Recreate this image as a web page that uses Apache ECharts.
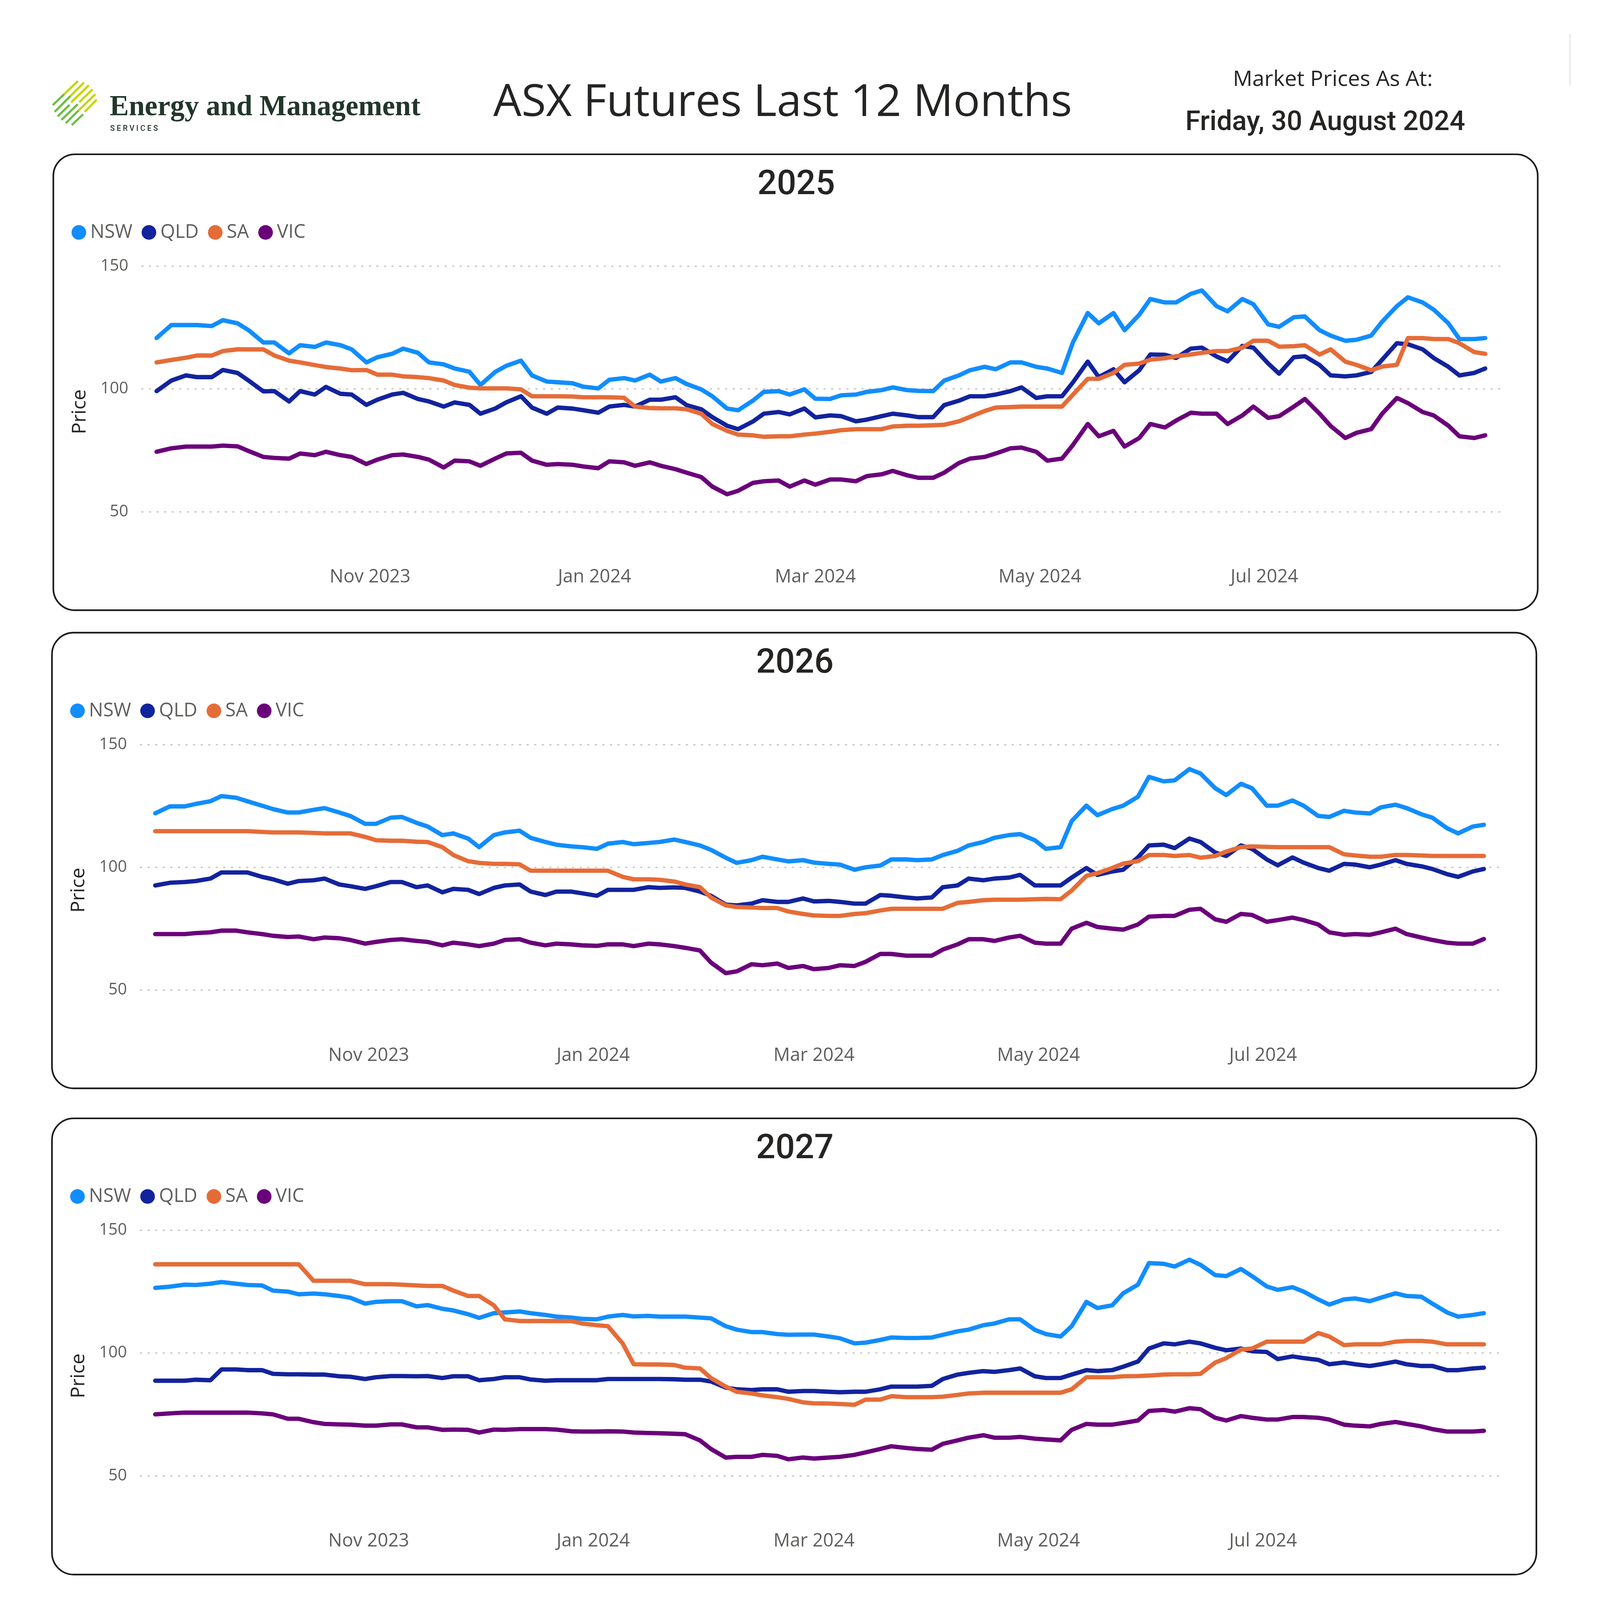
<!DOCTYPE html>
<html>
<head>
<meta charset="utf-8">
<script src="https://cdn.jsdelivr.net/npm/echarts@6/dist/echarts.min.js"></script>
<style>
html,body{margin:0;padding:0;background:#fff;overflow:hidden;}
</style>
</head>
<body>
<div id="chart"></div>
<script>
// ---------- DATA ----------
// Friday (weekly) readings
const dates = ['2023-09-04','2023-09-08','2023-09-15','2023-09-22','2023-09-29','2023-10-06','2023-10-13','2023-10-20','2023-10-27','2023-11-03','2023-11-10','2023-11-17','2023-11-24','2023-12-01','2023-12-08','2023-12-15','2023-12-22','2023-12-29','2024-01-05','2024-01-12','2024-01-19','2024-01-26','2024-02-02','2024-02-09','2024-02-16','2024-02-23','2024-03-01','2024-03-08','2024-03-15','2024-03-22','2024-03-29','2024-04-05','2024-04-12','2024-04-19','2024-04-26','2024-05-03','2024-05-10','2024-05-17','2024-05-24','2024-05-31','2024-06-07','2024-06-14','2024-06-21','2024-06-28','2024-07-05','2024-07-12','2024-07-19','2024-07-26','2024-08-02','2024-08-09','2024-08-16','2024-08-23','2024-08-30'];
// Tuesday (mid-week) readings
const midDates = ['2023-09-12','2023-09-19','2023-09-26','2023-10-03','2023-10-10','2023-10-17','2023-10-24','2023-10-31','2023-11-07','2023-11-14','2023-11-21','2023-11-28','2023-12-05','2023-12-12','2023-12-19','2023-12-26','2024-01-02','2024-01-09','2024-01-16','2024-01-23','2024-01-30','2024-02-06','2024-02-13','2024-02-20','2024-02-27','2024-03-05','2024-03-12','2024-03-19','2024-03-26','2024-04-02','2024-04-09','2024-04-16','2024-04-23','2024-04-30','2024-05-07','2024-05-14','2024-05-21','2024-05-28','2024-06-04','2024-06-11','2024-06-18','2024-06-25','2024-07-02','2024-07-09','2024-07-16','2024-07-23','2024-07-30','2024-08-06','2024-08-13','2024-08-20','2024-08-27'];
const regions = ['NSW','QLD','SA','VIC'];
const panelTitles = ['2025','2026','2027'];
const xTickDates = ['2023-11-01','2024-01-01','2024-03-01','2024-05-01','2024-07-01'];
const monthNames = ['Jan','Feb','Mar','Apr','May','Jun','Jul','Aug','Sep','Oct','Nov','Dec'];
const yTicks = {min:50, max:150, interval:50};

// 2025 calendar-year futures
const nsw2025 = [120.7,126,126.0,128,123.9,118.9,117.8,118.9,116.1,112.9,116.4,110.8,108.3,101.6,109.4,105.5,102.7,100.9,103.7,103.4,103.0,102.0,97.0,91.3,98.8,97.7,96.0,97.4,98.8,100.6,99.2,103.4,107.6,108.0,110.8,108.3,119.0,126.7,123.9,136.6,135.2,140.1,131.6,134.5,125.3,129.5,121.7,120.0,127.4,137.3,132.3,120.3,120.7];
const qld2025 = [99.1,103.4,104.8,107.7,103.4,99.1,99.1,100.8,97.7,95.6,98.4,94.9,94.5,89.9,94.5,92.4,92.4,91.3,92.8,92.8,95.6,93.4,88.5,83.6,89.9,89.6,88.4,88.9,87.5,89.9,88.5,93.4,97.0,97.7,100.6,97.0,102.7,104.8,102.7,114.0,112.6,116.8,111.2,116.8,106.2,113.3,105.5,105.5,111.9,118.2,112.6,105.5,108.3];
const sa2025  = [110.8,111.8,113.6,115.4,116.1,113.6,110.8,108.9,107.6,105.8,105.1,104.4,101.6,100.2,100.2,97.0,97.0,96.6,96.6,92.8,92.1,91.7,85.7,81.4,80.5,80.7,81.8,83.2,83.6,84.7,85.0,85.4,88.6,92.4,92.8,92.8,97.7,104.1,109.8,111.9,113.3,114.7,115.4,119.6,117.2,117.8,116.1,109.8,109.1,120.7,120.3,118.6,114.3];
const vic2025 = [74.4,75.8,76.5,76.9,74.7,71.9,73.7,74.4,72.3,71.2,73.3,71.2,70.8,68.7,73.7,70.8,69.4,68.4,70.5,68.7,68.7,65.9,60.2,58.5,62.4,60.2,61.0,63.1,64.5,66.6,63.8,65.9,71.6,73.7,76.1,70.8,77.2,80.7,76.5,85.7,87.1,89.9,85.7,92.8,88.9,95.9,84.9,82.1,89.9,94.2,89.2,80.7,81.1];
const nsw2025Mid = [126.0,125.6,126.7,118.9,114.5,117.1,117.8,110.8,114.3,114.7,110.0,107.0,106.9,111.5,103.0,102.3,100.2,104.4,105.8,104.4,99.8,92.0,95.2,99.1,99.8,95.9,97.7,99.5,99.5,99.1,105.5,109.0,110.8,109.0,106.5,130.9,130.9,130.2,135.2,138.7,133.7,136.6,126.3,129.2,123.9,119.6,121.7,133.7,135.2,126.7,120.3];
const qld2025Mid = [105.5,104.8,106.5,99.0,94.9,97.7,98.0,93.5,97.7,95.9,92.8,93.5,92.0,97.0,89.9,92.0,90.3,93.5,95.6,96.6,91.7,85.0,86.7,90.6,92.0,89.2,86.8,88.9,89.2,88.5,95.2,97.0,99.1,96.3,97.0,111.1,108.0,107.6,113.9,116.4,113.2,117.5,110.4,112.9,109.7,105.1,106.9,118.6,116.1,109.0,106.5];
const sa2025Mid  = [112.7,113.6,116.1,116.1,111.5,109.7,108.3,107.7,105.8,104.8,103.4,100.5,100.2,99.8,97.0,96.9,96.6,96.4,92.2,92.1,89.9,82.9,81.1,80.7,81.4,82.5,83.6,83.6,85.0,85.2,86.8,91.0,92.6,92.8,92.8,104.1,106.5,110.3,112.5,114.0,115.4,116.8,119.6,117.4,114.0,111.1,107.6,109.8,120.7,120.3,115.0];
const vic2025Mid = [76.5,76.5,76.6,72.3,71.6,73.0,73.0,69.4,73.0,72.3,68.0,70.5,71.6,74.0,69.1,69.1,67.7,70.1,70.1,67.3,64.1,57.1,61.7,62.7,62.7,63.1,62.4,65.2,64.8,63.8,69.8,72.3,75.8,74.4,71.6,85.7,82.9,80.0,84.3,90.3,89.9,89.2,88.2,92.8,89.9,80.0,83.6,96.3,90.6,85.0,80.0];

// 2026 calendar-year futures
const nsw2026 = [122.0,124.8,125.8,129.0,126.9,123.7,122.3,124.1,120.9,117.7,120.5,116.6,113.8,108.2,114.2,112.0,109.2,108.2,109.6,109.4,110.3,110.3,107.1,101.8,104.3,102.4,101.9,101.1,100.0,103.2,102.9,105.0,108.9,112.0,113.5,107.5,118.8,121.2,125.1,136.8,135.4,138.2,129.4,132.2,125.1,125.1,120.5,122.3,124.4,124.1,120.2,113.8,117.3];
const qld2026 = [92.6,93.7,94.4,97.9,97.9,95.1,94.4,95.4,92.3,92.3,94.0,92.6,91.2,89.1,92.6,90.1,90.1,89.4,90.8,90.8,91.6,91.6,88.4,84.5,86.6,85.9,86.1,85.9,85.2,88.4,87.3,91.9,95.4,95.4,96.9,92.6,95.8,96.9,99.0,108.9,107.8,110.3,104.6,107.5,100.8,101.9,98.6,101.1,101.1,101.4,99.3,96.1,99.3];
const sa2026  = [114.7,114.7,114.7,114.7,114.7,114.2,114.2,113.8,113.8,111.0,110.8,110.3,105.0,101.8,101.4,98.6,98.6,98.6,98.6,95.1,94.9,93.0,87.7,83.8,83.4,82.0,80.4,80.2,81.3,83.1,83.1,83.1,85.9,86.8,86.8,87.1,90.5,97.6,101.5,105.0,104.6,103.9,106.4,108.5,108.2,108.2,108.2,104.8,104.3,105.0,104.6,104.6,104.6];
const vic2026 = [72.8,72.8,73.2,74.2,73.5,72.1,71.8,71.4,70.4,69.6,70.7,69.6,69.3,67.9,70.4,69.3,68.9,68.2,68.6,67.9,68.6,67.2,61.2,57.6,60.1,59.0,58.5,60.1,61.5,64.7,64.0,66.5,70.7,70.0,72.1,68.9,75.0,75.7,74.6,79.9,80.2,83.1,77.8,80.6,78.5,78.5,73.5,72.8,73.5,72.8,70.4,68.9,70.8];
const nsw2026Mid = [124.8,126.9,128.3,125.1,122.3,123.4,122.3,117.7,120.2,118.1,113.1,111.7,113.1,114.9,110.3,108.5,107.5,110.3,109.9,111.3,108.9,103.9,102.9,103.2,102.9,101.4,99.0,100.7,103.2,103.2,106.7,110.3,113.1,111.0,108.2,125.1,123.7,128.7,135.0,140.0,132.2,134.0,125.1,127.2,120.9,123.0,121.9,125.5,121.6,115.9,116.6];
const qld2026Mid = [94.0,95.4,97.9,96.1,93.3,94.7,93.0,91.2,94.0,91.9,89.8,90.8,91.6,93.0,88.7,90.1,88.4,90.8,91.9,91.8,90.1,84.8,85.2,85.9,87.3,86.3,85.2,88.7,87.7,87.7,92.6,94.7,95.8,92.6,92.6,99.7,98.3,104.0,109.2,111.7,106.0,108.9,103.2,104.0,99.7,101.4,100.0,102.9,100.4,97.2,98.3];
const sa2026Mid  = [114.7,114.7,114.7,114.4,114.2,114.0,113.8,112.4,110.8,110.4,108.2,102.5,101.4,101.2,98.6,98.6,98.6,96.1,95.1,94.2,91.9,84.5,83.6,83.4,81.0,80.2,81.0,82.4,83.1,83.1,85.5,86.6,86.8,87.0,87.0,96.5,99.7,102.5,105.0,105.0,104.6,108.2,108.3,108.2,108.2,105.3,104.3,105.0,104.8,104.6,104.6];
const vic2026Mid = [72.8,73.5,74.2,72.8,71.6,70.7,71.1,68.9,70.4,70.0,68.2,68.6,68.9,70.7,68.2,68.6,68.0,68.6,68.9,67.9,66.1,56.9,60.5,60.8,59.8,59.0,59.8,64.7,64.0,64.0,68.6,70.7,71.4,69.3,68.9,77.4,75.0,76.7,80.2,82.7,78.8,81.0,77.8,79.5,76.7,72.5,72.5,75.0,71.4,69.3,68.9];

// 2027 calendar-year futures
const nsw2027 = [126.5,127.0,127.7,128.9,127.7,125.4,123.9,123.9,122.5,120.8,121.1,119.5,117.3,114.3,116.5,116.2,114.8,113.9,114.8,114.9,114.8,114.8,114.1,109.5,108.5,107.4,107.5,106.0,104.2,106.3,106.1,107.4,109.5,112.0,113.7,107.7,110.9,118.3,124.3,136.6,135.2,135.9,131.3,131.3,125.7,125.0,119.7,122.2,122.5,123.2,120.1,114.8,116.2];
const qld2027 = [88.7,88.7,89.1,93.3,93.0,91.5,91.3,91.2,90.3,90.1,90.6,90.6,90.5,88.9,90.1,89.2,88.9,88.9,89.4,89.4,89.4,89.1,88.4,85.2,85.2,84.2,84.5,84.0,84.2,86.3,86.3,89.4,91.9,92.3,93.7,89.8,91.2,92.6,94.4,101.8,103.5,103.9,101.1,100.7,97.5,97.9,95.4,95.4,95.4,95.4,94.7,93.0,94.0];
const sa2027  = [136.1,136.1,136.1,136.1,136.1,136.1,136.1,129.4,129.4,128.0,127.8,127.3,125.4,123.2,113.7,113.0,113.0,112.0,110.9,95.4,95.3,94.0,89.8,84.2,82.7,81.3,79.5,79.2,81.0,82.4,82.0,82.2,83.5,83.8,83.8,83.8,85.2,90.1,90.5,90.8,91.3,91.5,97.9,101.8,104.6,104.6,106.7,103.5,103.5,104.9,104.6,103.5,103.5];
const vic2027 = [75.0,75.4,75.7,75.7,75.7,75.0,73.2,71.1,70.8,70.4,70.9,69.7,68.8,67.6,68.7,69.0,68.8,68.0,68.1,67.6,67.3,66.9,60.9,57.7,58.5,56.7,57.0,57.7,59.5,62.0,60.9,63.0,65.5,65.5,65.8,64.8,68.7,70.8,71.5,76.4,76.1,77.1,72.5,73.6,72.9,73.9,72.9,70.4,71.1,71.1,69.0,68.0,68.3];
const nsw2027Mid = [127.8,128.2,128.2,127.5,125.0,124.2,123.2,120.1,121.1,119.0,118.0,115.8,116.2,116.9,115.5,114.4,113.7,115.5,115.1,114.8,114.4,110.9,108.5,107.7,107.5,106.7,103.9,105.3,106.1,106.3,108.8,111.3,113.7,109.4,106.7,120.8,119.4,127.8,136.3,138.0,131.7,134.2,127.1,126.8,121.8,121.8,121.1,124.3,122.9,116.5,115.5];
const qld2027Mid = [88.7,88.9,93.3,93.0,91.3,91.2,90.5,89.4,90.6,90.5,89.8,90.5,89.4,90.1,88.7,88.9,88.9,89.4,89.4,89.3,89.1,85.9,84.9,85.2,84.5,84.2,84.2,85.2,86.3,86.6,91.2,92.6,93.0,90.5,89.8,93.0,93.0,96.5,103.9,104.6,102.1,101.8,100.4,98.6,97.2,96.1,94.7,96.5,94.7,93.0,93.7];
const sa2027Mid  = [136.1,136.1,136.1,136.1,136.1,129.4,129.4,128.0,128.0,127.5,127.3,123.2,119.4,113.0,113.0,113.0,111.3,103.9,95.3,95.1,93.7,86.3,83.5,82.0,79.9,79.4,78.9,81.0,82.0,82.0,82.9,83.8,83.8,83.8,83.8,90.1,90.1,90.6,91.2,91.3,96.1,101.4,104.6,104.6,108.1,103.2,103.5,104.6,104.9,103.5,103.5];
const vic2027Mid = [75.7,75.7,75.7,75.4,73.2,71.8,70.9,70.4,70.9,69.7,68.7,68.7,68.8,69.0,69.0,68.1,68.0,68.0,67.4,67.1,64.4,57.4,57.7,58.1,57.4,57.4,58.5,60.9,61.3,60.6,64.4,66.5,65.5,65.1,64.4,71.1,70.8,72.5,76.8,77.5,73.6,74.3,72.9,73.9,73.6,70.8,70.1,71.9,70.1,68.0,68.0];

const panelValues = [
  [nsw2025, qld2025, sa2025, vic2025],
  [nsw2026, qld2026, sa2026, vic2026],
  [nsw2027, qld2027, sa2027, vic2027]
];
const panelMidValues = [
  [nsw2025Mid, qld2025Mid, sa2025Mid, vic2025Mid],
  [nsw2026Mid, qld2026Mid, sa2026Mid, vic2026Mid],
  [nsw2027Mid, qld2027Mid, sa2027Mid, vic2027Mid]
];

// ---------- STYLE / LAYOUT (designed on a 5910 x 5978 canvas, scaled to the viewport) ----------
const REF_W = 5910, REF_H = 5978;
const viewW = document.documentElement.clientWidth || window.innerWidth || REF_W;
const k = viewW / REF_W;
const s = v => v * k;
const el = document.getElementById('chart');
el.style.width = (REF_W * k) + 'px';
el.style.height = (REF_H * k) + 'px';

const colors = ['#118DFF','#12239E','#E66C37','#6B007B'];
const boxTops = [570, 2337, 4131];
const boxBottoms = [2254, 4020, 5816];
const dxs = [0, -5, -5];

function ts(str){ return Date.parse(str + 'T00:00:00Z'); }
function fmtMonth(v){ const d = new Date(v); return monthNames[d.getUTCMonth()] + ' ' + d.getUTCFullYear(); }
function font(weight, size, family){ return weight + ' ' + s(size).toFixed(2) + 'px ' + family; }
function seriesPoints(weekly, mid){
  const pts = dates.map((d, i) => [ts(d), weekly[i]]).concat(midDates.map((d, i) => [ts(d), mid[i]]));
  return pts.sort((a, b) => a[0] - b[0]);
}

const grids = [], xAxes = [], yAxes = [], legends = [], series = [], graphics = [];

panelTitles.forEach((title, p) => {
  const top = boxTops[p], dx = dxs[p];
  grids.push({left: s(524 + dx), right: s(REF_W - 5554 - dx), top: s(top + 413), height: s(907), containLabel: false});
  xAxes.push({
    gridIndex: p, type: 'value', min: ts('2023-08-31'), max: ts('2024-09-04'),
    axisLine: {show: false}, axisTick: {show: false}, splitLine: {show: false},
    axisLabel: {customValues: xTickDates.map(ts), formatter: fmtMonth, fontSize: s(68), color: '#605E5C', fontFamily: 'Open Sans', margin: s(208)}
  });
  yAxes.push({
    gridIndex: p, type: 'value', min: yTicks.min, max: yTicks.max, interval: yTicks.interval,
    axisLine: {show: false}, axisTick: {show: false},
    axisLabel: {fontSize: s(60), color: '#605E5C', fontFamily: 'Open Sans', margin: s(50)},
    splitLine: {show: true, lineStyle: {color: '#C8C6C4', width: s(5), type: [s(4), s(24)], cap: 'round'}}
  });
  legends.push({
    data: regions, left: s(257 + dx), top: s(top + 284 - 38), icon: 'circle',
    itemWidth: s(54), itemHeight: s(54), itemGap: s(34),
    textStyle: {fontSize: s(70), color: '#605E5C', fontFamily: 'Open Sans', padding: [0, 0, 0, s(8)]},
    selectedMode: false
  });
  regions.forEach((r, idx) => {
    series.push({
      type: 'line', name: r, xAxisIndex: p, yAxisIndex: p,
      data: seriesPoints(panelValues[p][idx], panelMidValues[p][idx]),
      showSymbol: false, symbol: 'none', smooth: false,
      color: colors[idx],
      lineStyle: {width: s(16), color: colors[idx], join: 'round', cap: 'round'},
      emphasis: {disabled: true}, silent: true, z: 3
    });
  });
  graphics.push({type: 'rect', z: 1, shape: {x: s(197 + dx), y: s(top), width: s(5483), height: s(boxBottoms[p] - top), r: s(80)},
    style: {fill: 'rgba(0,0,0,0)', stroke: '#1a1a1a', lineWidth: s(6)}});
  graphics.push({type: 'text', z: 5, x: s(2941 + dx), y: s(top + 116),
    style: {text: title, fill: '#252423', font: font('500', 126, 'Roboto'), align: 'center', verticalAlign: 'middle'}});
  graphics.push({type: 'text', z: 5, x: s(296 + dx), y: s(top + 951), rotation: Math.PI / 2,
    style: {text: 'Price', fill: '#252423', font: font('normal', 72, '"Open Sans"'), align: 'center', verticalAlign: 'middle'}});
});

// header
graphics.push({type: 'text', x: s(2891), y: s(382),
  style: {text: 'ASX Futures Last 12 Months', fill: '#252423', font: font('normal', 165, '"Open Sans"'), align: 'center', verticalAlign: 'middle'}});
graphics.push({type: 'text', x: s(4923), y: s(294),
  style: {text: 'Market Prices As At:', fill: '#252423', font: font('normal', 80, '"Open Sans"'), align: 'center', verticalAlign: 'middle'}});
graphics.push({type: 'text', x: s(4895), y: s(455),
  style: {text: 'Friday, 30 August 2024', fill: '#252423', font: font('500', 101, 'Roboto'), align: 'center', verticalAlign: 'middle'}});
graphics.push({type: 'line', shape: {x1: s(5799), y1: s(126), x2: s(5799), y2: s(314)}, style: {stroke: '#E1E1E1', lineWidth: s(4)}});

// logo
graphics.push({type: 'text', x: s(405), y: s(398),
  style: {text: 'Energy and Management', fill: '#22372A', font: font('bold', 106, '"Liberation Serif"'), align: 'left', verticalAlign: 'middle'}});
graphics.push({type: 'text', x: s(407), y: s(477),
  style: {text: 'S E R V I C E S', fill: '#22372A', font: font('500', 28, 'Roboto'), align: 'left', verticalAlign: 'middle'}});
const logoStripes = [
  [[195,388],[237,348],[288,299]],
  [[202,413],[260,355],[310,305]],
  [[213,430],[257,387],[263,378],[328,315]],
  [[227,443],[287,385],[293,377],[342,330]],
  [[243,455],[290,408],[352,348]],
  [[265,462],[307,422],[313,413],[357,368]]
];
function seg(a, b, col){
  graphics.push({type: 'line', shape: {x1: s(a[0]), y1: s(a[1]), x2: s(b[0]), y2: s(b[1])}, style: {stroke: col, lineWidth: s(8)}});
}
logoStripes.forEach(st => {
  if (st.length === 3) { seg(st[0], st[1], '#6DBE45'); seg(st[1], st[2], '#C3D600'); }
  else { seg(st[0], st[1], '#6DBE45'); seg(st[2], st[3], '#C3D600'); }
});

const chart = echarts.init(el, null, {renderer: 'canvas'});
chart.setOption({
  animation: false,
  backgroundColor: '#ffffff',
  textStyle: {fontFamily: 'Open Sans'},
  grid: grids,
  xAxis: xAxes,
  yAxis: yAxes,
  legend: legends,
  series: series,
  graphic: {elements: graphics}
});
</script>
</body>
</html>
